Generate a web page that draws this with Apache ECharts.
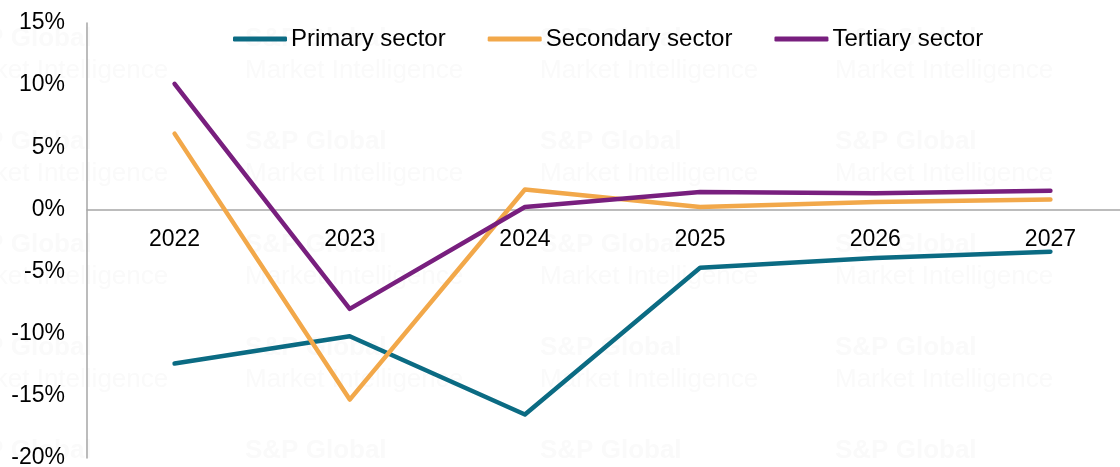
<!DOCTYPE html>
<html>
<head>
<meta charset="utf-8">
<script src="https://cdn.jsdelivr.net/npm/echarts@6/dist/echarts.min.js"></script>
<style>html,body{margin:0;padding:0;background:#fff}#c{width:1120px;height:467px}</style>
</head>
<body>
<div id="c"></div>
<script>
const years = ['2022', '2023', '2024', '2025', '2026', '2027'];
const primary = [-12.4, -10.2, -16.5, -4.7, -3.9, -3.4];
const secondary = [6.1, -15.3, 1.6, 0.2, 0.6, 0.8];
const tertiary = [10.1, -8.0, 0.2, 1.4, 1.3, 1.5];
const seriesNames = ['Primary sector', 'Secondary sector', 'Tertiary sector'];
const colors = ['#0B6B83', '#F2A84A', '#781F7E'];
const yMin = -20, yMax = 15, yStep = 5;

const chart = echarts.init(document.getElementById('c'));
const font = 'Liberation Sans, Arial, sans-serif';
const G = { left: 87, top: 23, width: 1051, height: 435 };
const zeroOffset = -G.height * (0 - yMin) / (yMax - yMin);

// faint background watermark
const wm = [];
[40, 143, 246, 349, 452].forEach(function (y) {
  [-50, 245, 540, 835].forEach(function (x) {
    wm.push({ type: 'text', x: x, y: y - 14, z: -10, silent: true,
      style: { text: 'S&P Global', fill: '#fafafa', font: 'bold 26px ' + font } });
    wm.push({ type: 'text', x: x, y: y + 18, z: -10, silent: true,
      style: { text: 'Market Intelligence', fill: '#fafafa', font: '26px ' + font } });
  });
});

const mk = (name, data, color) => ({
  name, type: 'line', data, symbol: 'none', smooth: false,
  lineStyle: { color, width: 4.5, cap: 'round', join: 'round' },
  itemStyle: { color }
});
chart.setOption({
  animation: false,
  graphic: wm,
  grid: Object.assign({ outerBoundsMode: 'none', containLabel: false }, G),
  legend: {
    top: 22, left: 228,
    itemWidth: 54, itemHeight: 5, itemGap: 42,
    icon: 'roundRect',
    textStyle: { fontFamily: font, fontSize: 24, color: '#000', padding: [0, 0, 0, -1] },
    data: seriesNames
  },
  xAxis: {
    type: 'category', data: years, boundaryGap: true, position: 'bottom',
    offset: zeroOffset,
    axisLine: { onZero: false, lineStyle: { color: '#A6A6A6', width: 1.5 } },
    axisTick: { show: false },
    axisLabel: { fontFamily: font, fontSize: 23, color: '#000', margin: 19 },
    splitLine: { show: false }
  },
  yAxis: {
    type: 'value', min: yMin, max: yMax, interval: yStep,
    axisLine: { show: true, lineStyle: { color: '#A6A6A6', width: 1.5 } },
    axisTick: { show: false },
    splitLine: { show: false },
    axisLabel: { fontFamily: font, fontSize: 23, color: '#000', margin: 22, padding: [6, 0, 0, 0], formatter: v => v + '%' }
  },
  series: [
    mk(seriesNames[0], primary, colors[0]),
    mk(seriesNames[1], secondary, colors[1]),
    mk(seriesNames[2], tertiary, colors[2])
  ]
});
</script>
</body>
</html>
